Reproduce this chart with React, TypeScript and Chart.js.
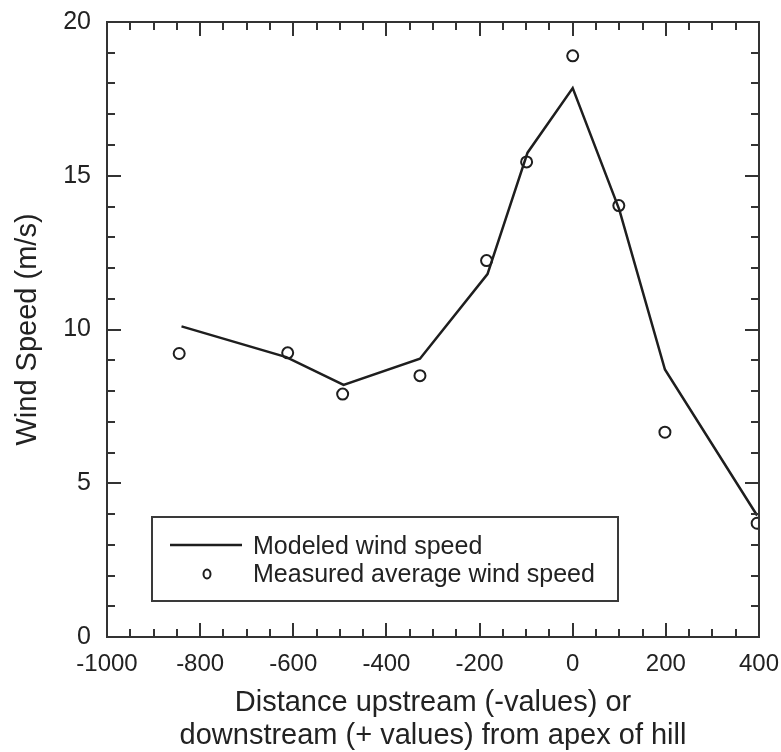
import React, { useEffect, useRef } from 'react';
import { Chart, registerables } from 'chart.js';

Chart.register(...registerables);

// Modeled wind speed (line)
const modelX = [-840, -615, -492, -328, -183, -97, 0, 100, 198, 396];
const modelY = [10.1, 9.1, 8.2, 9.05, 11.8, 15.75, 17.85, 13.9, 8.7, 3.95];

// Measured average wind speed (circles)
const measuredX = [-845, -612, -494, -328, -185, -99, 0, 99, 198, 396];
const measuredY = [9.22, 9.24, 7.9, 8.5, 12.24, 15.45, 18.9, 14.03, 6.66, 3.7];

const seriesLabels = ['Modeled wind speed', 'Measured average wind speed'];
const xTitleLines = ['Distance upstream (-values) or', 'downstream (+ values) from apex of hill'];
const yTitle = 'Wind Speed (m/s)';

const xMin = -1000;
const xMax = 400;
const xMajorStep = 200;
const xMinorStep = 50;
const yMin = 0;
const yMax = 20;
const yMajorStep = 5;
const yMinorStep = 1;

const FONT = '"Liberation Sans", Arial, Helvetica, sans-serif';
const INK = '#222222';
const FRAME = '#333333';

const framePlugin = {
  id: 'frameTicks',
  afterDatasetsDraw(chart: any) {
    const { ctx, chartArea } = chart;
    const { left, right, top, bottom } = chartArea;
    const xs = chart.scales.x;
    const ys = chart.scales.y;
    ctx.save();
    ctx.strokeStyle = FRAME;
    ctx.lineWidth = 2;
    ctx.strokeRect(left, top, right - left, bottom - top);
    ctx.beginPath();
    for (let v = xMin + xMinorStep; v < xMax; v += xMinorStep) {
      const px = Math.round(xs.getPixelForValue(v));
      const len = v % xMajorStep === 0 ? 14 : 8;
      ctx.moveTo(px, bottom);
      ctx.lineTo(px, bottom - len);
      ctx.moveTo(px, top);
      ctx.lineTo(px, top + len);
    }
    for (let v = yMin + yMinorStep; v < yMax; v += yMinorStep) {
      const py = Math.round(ys.getPixelForValue(v));
      const len = v % yMajorStep === 0 ? 14 : 8;
      ctx.moveTo(left, py);
      ctx.lineTo(left + len, py);
      ctx.moveTo(right, py);
      ctx.lineTo(right - len, py);
    }
    ctx.stroke();
    ctx.restore();
  },
};

const legendPlugin = {
  id: 'insetLegend',
  afterDraw(chart: any) {
    const { ctx, chartArea } = chart;
    const { left, top } = chartArea;
    const bx = left + 45;
    const by = top + 495;
    const bw = 466;
    const bh = 84;
    ctx.save();
    ctx.fillStyle = '#ffffff';
    ctx.fillRect(bx, by, bw, bh);
    ctx.strokeStyle = '#3a3a3a';
    ctx.lineWidth = 2;
    ctx.strokeRect(bx, by, bw, bh);

    const ds = chart.data.datasets;
    // line sample
    ctx.strokeStyle = ds[0].borderColor;
    ctx.lineWidth = 2.5;
    ctx.beginPath();
    ctx.moveTo(bx + 18, by + 28);
    ctx.lineTo(bx + 90, by + 28);
    ctx.stroke();
    // circle sample
    ctx.strokeStyle = ds[1].borderColor;
    ctx.lineWidth = 2;
    ctx.beginPath();
    ctx.ellipse(bx + 55, by + 57, 3.5, 4.5, 0, 0, Math.PI * 2);
    ctx.stroke();

    ctx.fillStyle = INK;
    ctx.font = `25px ${FONT}`;
    ctx.textAlign = 'left';
    ctx.textBaseline = 'alphabetic';
    ctx.fillText(ds[0].label, bx + 101, by + 37);
    ctx.fillText(ds[1].label, bx + 101, by + 65);
    ctx.restore();
  },
};

export default function App() {
  const canvasRef = useRef<HTMLCanvasElement | null>(null);

  useEffect(() => {
    const canvas = canvasRef.current;
    if (!canvas) return;
    const chart = new Chart(canvas, {
      type: 'scatter',
      data: {
        datasets: [
          {
            label: seriesLabels[0],
            data: modelX.map((x, i) => ({ x, y: modelY[i] })),
            showLine: true,
            borderColor: '#1e1e1e',
            borderWidth: 2.5,
            pointRadius: 0,
            pointHoverRadius: 0,
            tension: 0,
            fill: false,
          },
          {
            label: seriesLabels[1],
            data: measuredX.map((x, i) => ({ x, y: measuredY[i] })),
            showLine: false,
            borderColor: '#1e1e1e',
            backgroundColor: 'rgba(0,0,0,0)',
            pointStyle: 'circle',
            pointRadius: 5.5,
            pointBorderWidth: 2,
          },
        ],
      },
      options: {
        responsive: false,
        animation: false,
        events: [],
        layout: { padding: { left: 0, top: 22, right: 22, bottom: 0 } },
        plugins: {
          legend: { display: false },
          tooltip: { enabled: false },
          title: { display: false },
        },
        scales: {
          x: {
            type: 'linear',
            min: xMin,
            max: xMax,
            grid: { display: false, drawTicks: false },
            border: { display: false },
            ticks: {
              stepSize: xMajorStep,
              color: INK,
              padding: 13,
              font: { family: FONT, size: 24 },
              maxRotation: 0,
              autoSkip: false,
              callback: (v: any) => String(v),
            },
            title: {
              display: true,
              text: xTitleLines,
              color: INK,
              font: { family: FONT, size: 29, lineHeight: 1.12 },
              padding: { top: 0, bottom: 0 },
            },
            afterFit(scale: any) {
              scale.height = 115;
              scale.paddingLeft = 0;
              scale.paddingRight = 0;
            },
          },
          y: {
            type: 'linear',
            min: yMin,
            max: yMax,
            grid: { display: false, drawTicks: false },
            border: { display: false },
            ticks: {
              stepSize: yMajorStep,
              color: INK,
              padding: 16,
              font: { family: FONT, size: 25 },
              callback: (v: any) => String(v),
            },
            title: {
              display: true,
              text: yTitle,
              color: INK,
              font: { family: FONT, size: 29, lineHeight: 1.12 },
              padding: { top: 12, bottom: 0 },
            },
            afterFit(scale: any) {
              scale.width = 107;
              scale.paddingTop = 0;
              scale.paddingBottom = 0;
            },
          },
        },
      },
      plugins: [framePlugin, legendPlugin],
    });
    return () => chart.destroy();
  }, []);

  return (
    <div style={{ position: 'absolute', left: 0, top: 0, width: 781, height: 752, background: '#ffffff' }}>
      <canvas ref={canvasRef} width={781} height={752} />
    </div>
  );
}
